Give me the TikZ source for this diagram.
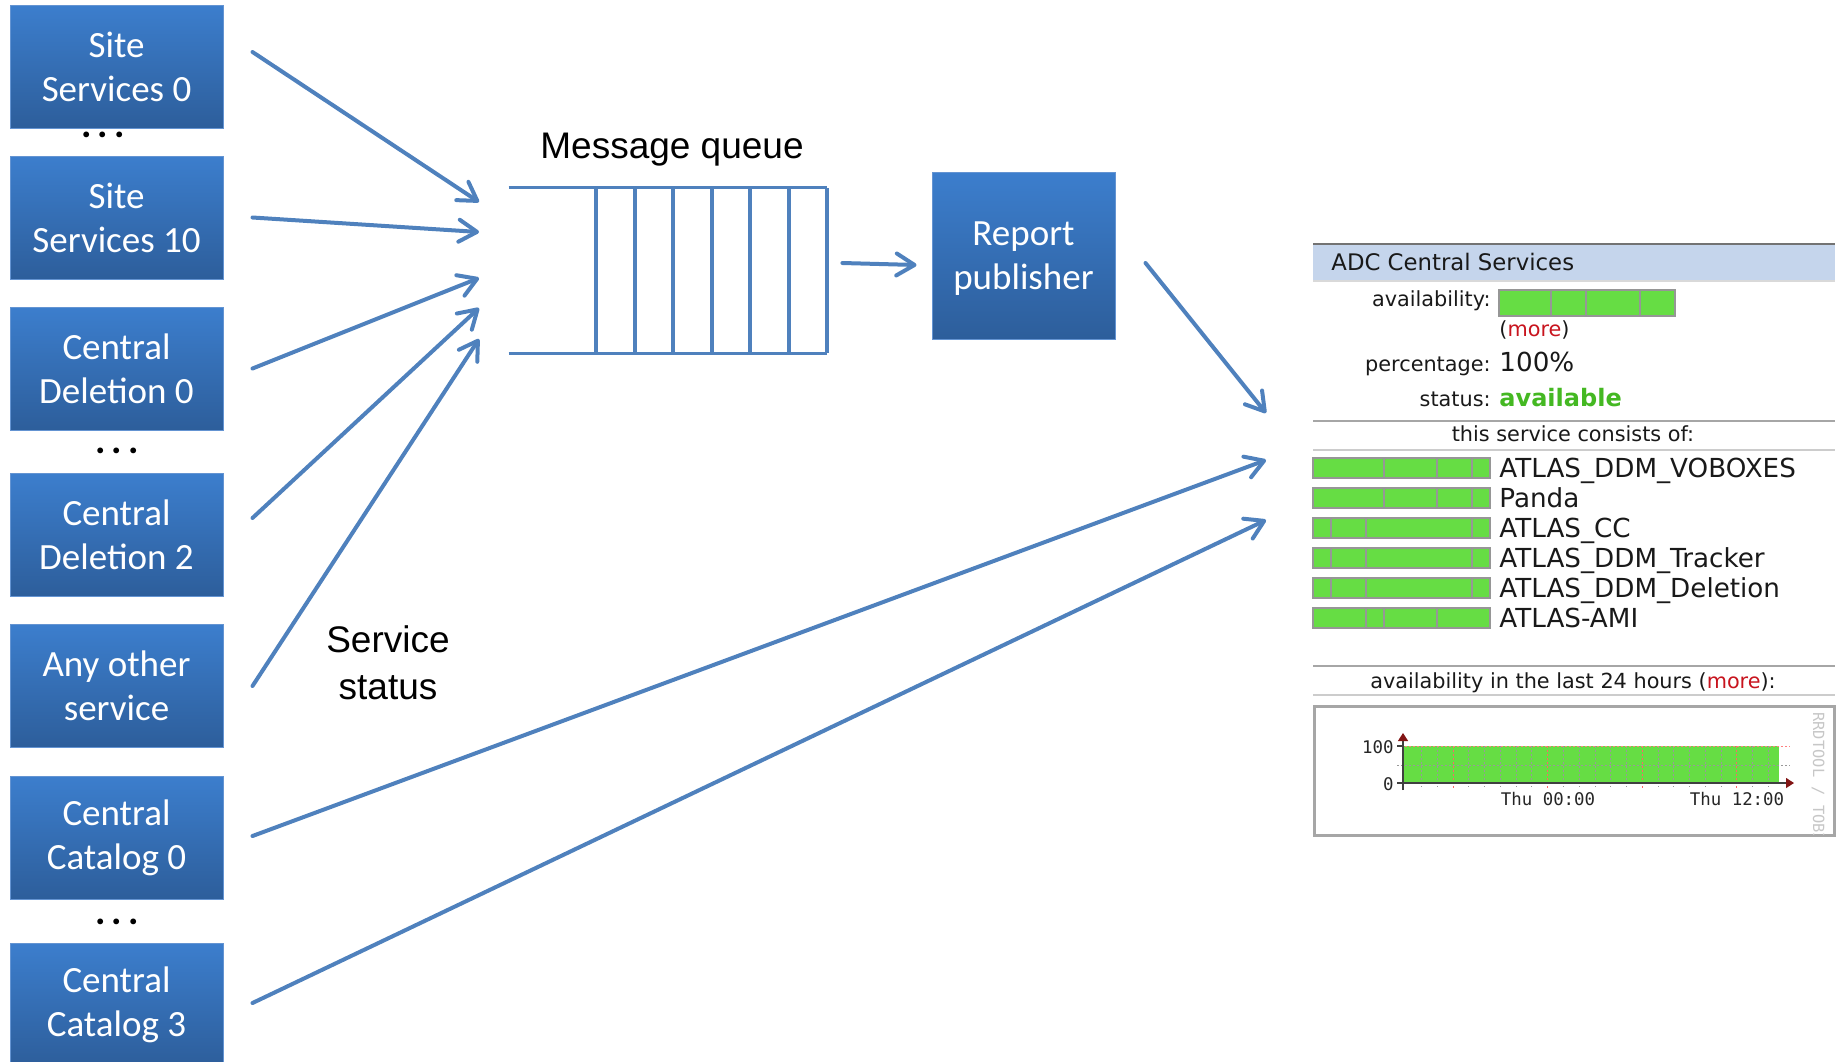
\documentclass[tikz,border=0pt]{standalone}
\usepackage{fontspec}
\usepackage{xcolor}
\usetikzlibrary{arrows.meta}
\newfontfamily\calibrifont{Carlito}
\newfontfamily\arialfont{Liberation Sans}
\newfontfamily\verdanafont{DejaVu Sans}
\newfontfamily\rrdfont{DejaVu Sans Mono}
\definecolor{officeblue}{RGB}{79,129,189}
\definecolor{boxtop}{RGB}{60,126,205}
\definecolor{boxbottom}{RGB}{45,94,155}
\definecolor{boxborder}{RGB}{100,148,210}
\definecolor{headerblue}{RGB}{197,213,236}
\definecolor{okgreen}{RGB}{102,221,68}
\definecolor{okborder}{RGB}{150,150,150}
\definecolor{availgreen}{RGB}{68,184,34}
\definecolor{morered}{RGB}{200,20,30}
\definecolor{webblack}{RGB}{25,25,25}
\definecolor{rrdred}{RGB}{130,20,20}
\tikzset{
    service/.style={
        draw=boxborder,
        line width=0.5pt,
        top color=boxtop,
        bottom color=boxbottom,
        minimum width=106.5pt,
        minimum height=61.5pt,
        inner sep=0pt,
        align=center,
        text=white,
        font=\calibrifont\fontsize{18.5}{22}\selectfont
    },
    flow/.style={
        draw=officeblue,
        line width=2pt,
        line cap=round,
        -{Straight Barb[length=9pt, width=11pt, round]}
    }
}

\begin{document}
\begin{tikzpicture}[x=0.5pt, y=-0.5pt]
  \tikzset{
    dots/.style={
      inner sep=0pt,
      font=\calibrifont\bfseries\fontsize{19.5}{22}\selectfont
    },
    caption/.style={
      inner sep=0pt,
      align=center,
      font=\arialfont\fontsize{18.5}{23.5}\selectfont
    },
    queuebox/.style={
      minimum width=159pt,
      minimum height=82.5pt,
      inner sep=0pt
    },
    qline/.style={
      draw=officeblue,
      line width=1.8pt
    },
    webtext/.style={
      inner sep=0pt,
      text=webblack,
      font=\verdanafont\fontsize{10.4}{12}\selectfont
    },
    rowtext/.style={
      inner sep=0pt,
      text=webblack,
      font=\verdanafont\fontsize{13.1}{14}\selectfont
    },
    rrdtext/.style={
      inner sep=0pt,
      text=black!85,
      font=\rrdfont\fontsize{8.7}{10}\selectfont
    },
    rule/.style={
      draw=black!35,
      line width=0.8pt
    },
    okbar/.style={
      fill=okgreen,
      draw=okborder,
      line width=0.6pt
    },
    okcut/.style={
      draw=okborder,
      line width=0.6pt
    }
  }
  \useasboundingbox (0,0) rectangle (1839,1061);

  % services
  \node[service] (ss0) at (116.5,66.5) {Site\\Services 0};
  \node[service] (ss10) at (116.5,217.5) {Site\\Services 10};
  \node[service] (cd0) at (116.5,368.5) {Central\\Deletion 0};
  \node[service] (cd2) at (116.5,535) {Central\\Deletion 2};
  \node[service] (other) at (116.5,686) {Any other\\service};
  \node[service] (cc0) at (116.5,837.5) {Central\\Catalog 0};
  \node[service] (cc3) at (116.5,1004.5) {Central\\Catalog 3};

  \node[dots] (dots1) at (103,135) {.\kern3pt.\kern3pt.};
  \node[dots] (dots2) at (117,451) {.\kern3pt.\kern3pt.};
  \node[dots] (dots3) at (117,922) {.\kern3pt.\kern3pt.};

  % message queue
  \node[queuebox] (queue) at (668,270.5) {};
  \draw[qline] (queue.north west) -- (queue.north east);
  \draw[qline] (queue.south west) -- (queue.south east);
  \foreach \qx in {596,635,673,712,750,789,827}
    \draw[qline] (\qx,188) -- (\qx,353);
  \node[caption] (mqlabel) at (672,150) {Message queue};
  \node[caption] (sslabel) at (388,663) {Service\\status};

  \node[service, minimum width=91.5pt, minimum height=83.5pt, text depth=0pt] (report) at (1023.5,255.5) {Report\\publisher};

  \coordinate (q1) at (479,202);
  \coordinate (q2) at (479,232);
  \coordinate (q3) at (479,278);
  \coordinate (q4) at (479,308);
  \coordinate (q5) at (479,339);
  \coordinate (p1) at (1266,413);
  \coordinate (p2) at (1266,460);
  \coordinate (p3) at (1266,520);

  \draw[flow] ([shift={(29,-14.5)}]ss0.east) -- (q1);
  \draw[flow] ([shift={(29,0)}]ss10.east) -- (q2);
  \draw[flow] ([shift={(29,0)}]cd0.east) -- (q3);
  \draw[flow] ([shift={(29,-17)}]cd2.east) -- (q4);
  \draw[flow] ([shift={(29,0)}]other.east) -- (q5);
  \draw[flow] ([shift={(29,-1.5)}]cc0.east) -- (p2);
  \draw[flow] ([shift={(29,-1.5)}]cc3.east) -- (p3);
  \draw[flow] ([shift={(15,-7.5)}]queue.east) -- ([shift={(-15,9.5)}]report.west);
  \draw[flow] ([shift={(30,7.5)}]report.east) -- (p1);

  % status page
  \fill[headerblue] (1313,244) rectangle (1835,280);
  \draw[draw=black!55, line width=1pt] (1313,244) -- (1835,244);
  \draw[rule, draw=black!15] (1313,281) -- (1835,281);
  \node[webtext, font=\verdanafont\fontsize{11.4}{13}\selectfont, anchor=base west] (title) at (1331,270) {ADC Central Services};

  \node[webtext, anchor=base east] (availlbl) at (1491,306) {availability:};
  \draw[okbar] (1499,290) rectangle (1675,316);
  \foreach \cx in {1551,1586,1640}
    \draw[okcut] (\cx,290) -- (\cx,316);
  \node[webtext, anchor=base west] (availmore) at (1499,336) {(\textcolor{morered}{more})};
  \node[webtext, anchor=base east] (pctlbl) at (1491,371) {percentage:};
  \node[rowtext, anchor=base west] (pct) at (1499,371) {100\%};
  \node[webtext, anchor=base east] (statlbl) at (1491,406) {status:};
  \node[rowtext, anchor=base west, text=availgreen, font=\verdanafont\bfseries\fontsize{12}{14}\selectfont] (stat) at (1499,406) {available};

  \draw[rule] (1313,421) -- (1835,421);
  \node[webtext, anchor=base] (consists) at (1573,441) {this service consists of:};
  \draw[rule, draw=black!20] (1313,450) -- (1835,450);

  \foreach \lbl/\cuts [count=\i from 0] in {ATLAS\_DDM\_VOBOXES/{1384,1437,1472}, Panda/{1384,1437,1472}, ATLAS\_CC/{1331,1366,1472}, ATLAS\_DDM\_Tracker/{1331,1366,1472}, ATLAS\_DDM\_Deletion/{1331,1366,1472}, ATLAS-AMI/{1366,1384,1437}} {
    \pgfmathsetmacro\ry{468+30*\i}
    \draw[okbar] (1313,\ry-10) rectangle (1490,\ry+10);
    \foreach \cx in \cuts
      \draw[okcut] (\cx,\ry-10) -- (\cx,\ry+10);
    \node[rowtext, anchor=base west] (row\i) at (1499,\ry+9) {\lbl};
  }

  \draw[rule] (1313,666) -- (1835,666);
  \node[webtext, anchor=base] (last24) at (1573,688) {availability in the last 24 hours (\textcolor{morered}{more}):};
  \draw[rule, draw=black!20] (1313,695) -- (1835,695);

  % rrd graph
  \draw[draw=black!35, line width=1.5pt, fill=white] (1314,706) rectangle (1834,835);
  \fill[okgreen] (1403,746) rectangle (1779,783);
  \foreach \k in {-2,...,20} {
    \pgfmathsetmacro\gx{1453+15.77*\k}
    \draw[black!40, line width=0.4pt, dash pattern=on 1pt off 1pt] (\gx,746) -- (\gx,787);
  }
  \foreach \k in {0,6,12,18} {
    \pgfmathsetmacro\gx{1453+15.77*\k}
    \draw[red!60, line width=0.4pt, dash pattern=on 1pt off 1pt] (\gx,746) -- (\gx,789);
  }
  \draw[black!40, line width=0.4pt, dash pattern=on 1pt off 1pt] (1397,765) -- (1790,765);
  \draw[red!50, line width=0.4pt, dash pattern=on 1pt off 1pt] (1397,746) -- (1790,746);
  \draw[black!75, line width=0.6pt] (1397,746) -- (1403,746);
  \draw[black!75, line width=0.6pt, -{Triangle[length=4pt, width=5pt, color=rrdred]}] (1403,790) -- (1403,733);
  \draw[black!75, line width=0.6pt, -{Triangle[length=4pt, width=5pt, color=rrdred]}] (1397,783) -- (1794,783);
  \node[rrdtext, anchor=east] (y100) at (1394,747) {100};
  \node[rrdtext, anchor=east] (y0) at (1394,784) {0};
  \node[rrdtext, anchor=base] (t00) at (1548,805) {Thu 00:00};
  \node[rrdtext, anchor=base] (t12) at (1737,805) {Thu 12:00};
  \begin{scope}
    \clip (1314,706) rectangle (1833,834);
    \node[rrdtext, text=black!22, font=\rrdfont\fontsize{7.7}{9}\selectfont, rotate=-90, anchor=west] (rrdtool) at (1818,712) {RRDTOOL / TOBI};
  \end{scope}
\end{tikzpicture}
\end{document}
